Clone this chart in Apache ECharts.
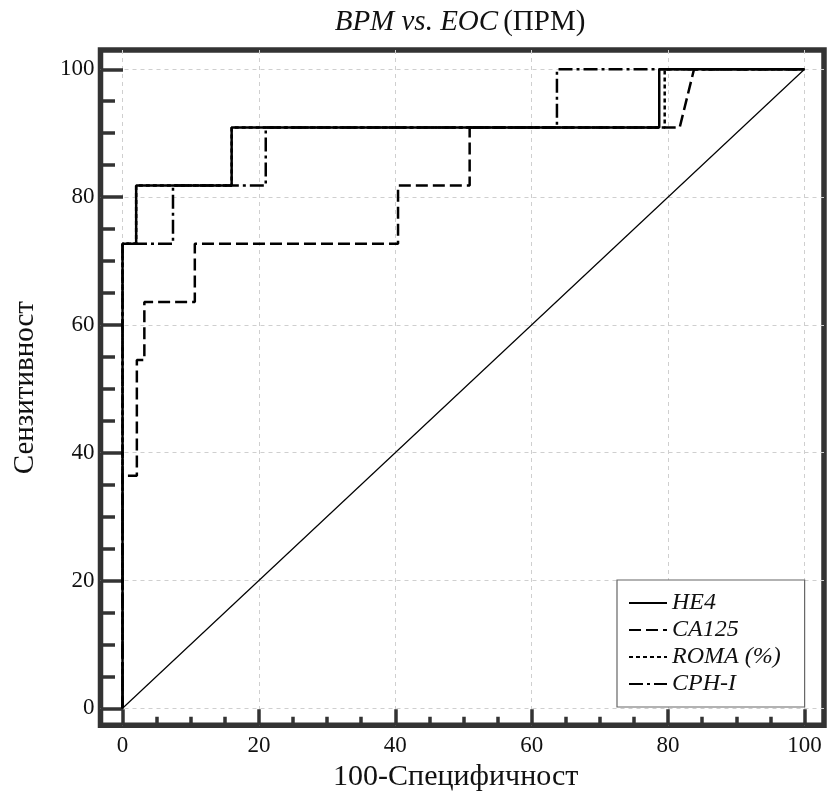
<!DOCTYPE html>
<html>
<head>
<meta charset="utf-8">
<script src="https://cdn.jsdelivr.net/npm/echarts@6/dist/echarts.min.js"></script>
<style>html,body{margin:0;padding:0;background:#fff}#c{width:830px;height:800px}</style>
</head>
<body>
<div id="c"></div>
<script>
// ---- data ----
const seriesNames = ['HE4', 'CA125', 'ROMA (%)', 'CPH-I'];
const he4X  = [0, 0, 2.0, 2.0, 16.0, 16.0, 78.7, 78.7, 100];
const he4Y  = [0, 72.7, 72.7, 81.8, 81.8, 90.9, 90.9, 100, 100];
const ca125X = [0, 0, 2.1, 2.1, 3.2, 3.2, 10.6, 10.6, 40.4, 40.4, 50.9, 50.9, 81.7, 83.8, 100];
const ca125Y = [0, 36.4, 36.4, 54.5, 54.5, 63.6, 63.6, 72.7, 72.7, 81.8, 81.8, 90.9, 90.9, 100, 100];
const romaX = [0, 0, 2.0, 2.0, 16.0, 16.0, 79.5, 79.5, 100];
const romaY = [0, 72.7, 72.7, 81.8, 81.8, 90.9, 90.9, 100, 100];
const cphX  = [0, 0, 7.4, 7.4, 21.0, 21.0, 63.7, 63.7, 100];
const cphY  = [0, 72.7, 72.7, 81.8, 81.8, 90.9, 90.9, 100, 100];
const diagX = [0, 100];
const diagY = [0, 100];
const majorTicks = [0, 20, 40, 60, 80, 100];
const minorTicks = [5, 10, 15, 25, 30, 35, 45, 50, 55, 65, 70, 75, 85, 90, 95];

const pairs = (xs, ys) => xs.map((x, i) => [x, ys[i]]);
const FONT = '"Liberation Serif", "DejaVu Serif", serif';
const INK = '#333';

const X_MIN = -3.23, X_MAX = 102.86, Y_MIN = -2.66, Y_MAX = 103.02;

function majorAxis(pos, len) {
  return {
    type: 'value', min: pos === 'bottom' ? X_MIN : Y_MIN, max: pos === 'bottom' ? X_MAX : Y_MAX,
    position: pos,
    axisLine: { show: false, onZero: false },
    axisTick: { show: true, inside: true, length: len, customValues: majorTicks,
      lineStyle: { color: INK, width: 3.5 } },
    axisLabel: { show: true, customValues: majorTicks, margin: pos === 'bottom' ? 9 : 6,
      color: '#111', fontFamily: FONT, fontSize: 23 },
    splitLine: { show: true, lineStyle: { color: '#cfcfcf', width: 1, type: [4, 4] } }
  };
}
function minorAxis(pos, len) {
  return {
    type: 'value', min: pos === 'bottom' ? X_MIN : Y_MIN, max: pos === 'bottom' ? X_MAX : Y_MAX,
    position: pos,
    axisLine: { show: false, onZero: false },
    axisTick: { show: true, inside: true, length: len, customValues: minorTicks,
      lineStyle: { color: INK, width: 3.5 } },
    axisLabel: { show: false },
    splitLine: { show: false }
  };
}

const xMajor = majorAxis('bottom', 16);
xMajor.name = '100-Специфичност';
xMajor.nameLocation = 'middle';
xMajor.nameGap = 35;
xMajor.nameTextStyle = { fontFamily: FONT, fontSize: 30, color: '#111', padding: [0, 13, 0, 0] };
const yMajor = majorAxis('left', 22.5);
yMajor.name = 'Сензитивност';
yMajor.nameLocation = 'middle';
yMajor.nameGap = 61;
yMajor.nameTextStyle = { fontFamily: FONT, fontSize: 29, color: '#111' };

function lineSeries(name, xs, ys, type, width, z) {
  return {
    name, type: 'line', xAxisIndex: 0, yAxisIndex: 0,
    data: pairs(xs, ys), symbol: 'none', z: z, animation: false,
    itemStyle: { color: '#000' },
    lineStyle: { color: '#000', width: width, type: type }
  };
}

const option = {
  animation: false,
  backgroundColor: '#fff',
  title: {
    text: '{i|BPM vs. EOC} {n|(ПРМ)}',
    left: 455, top: 3, textAlign: 'center',
    textStyle: {
      fontWeight: 'normal',
      rich: {
        i: { fontFamily: FONT, fontSize: 29, fontStyle: 'italic', fontWeight: 'normal', color: '#111' },
        n: { fontFamily: FONT, fontSize: 29, fontWeight: 'normal', color: '#111' }
      }
    }
  },
  grid: {
    left: 100.5, top: 50, right: 6, bottom: 74.7,
    show: true, borderColor: INK, borderWidth: 5.5, backgroundColor: 'transparent'
  },
  xAxis: [xMajor, minorAxis('bottom', 8.6)],
  yAxis: [yMajor, minorAxis('left', 14.5)],
  legend: {
    data: seriesNames,
    orient: 'vertical',
    left: 617, top: 580,
    padding: [11, 24, 11, 11],
    itemWidth: 38, itemHeight: 10, itemGap: 3, itemTextGap: 6,
    itemStyle: { color: 'transparent', borderColor: 'transparent', borderWidth: 0 },
    backgroundColor: '#fff', borderColor: '#666', borderWidth: 1.2,
    textStyle: { fontFamily: FONT, fontSize: 24, fontStyle: 'italic', color: '#111', lineHeight: 24 }
  },
  series: [
    lineSeries('diag', diagX, diagY, 'solid', 1.2, 1),
    lineSeries('CPH-I', cphX, cphY, [14, 4, 3, 4], 2.5, 2),
    lineSeries('ROMA (%)', romaX, romaY, [4, 3], 2.5, 3),
    lineSeries('CA125', ca125X, ca125Y, [12, 5], 2.5, 4),
    lineSeries('HE4', he4X, he4Y, 'solid', 2.5, 5)
  ]
};

const chart = echarts.init(document.getElementById('c'), null, { renderer: 'canvas' });
chart.setOption(option);
</script>
</body>
</html>
